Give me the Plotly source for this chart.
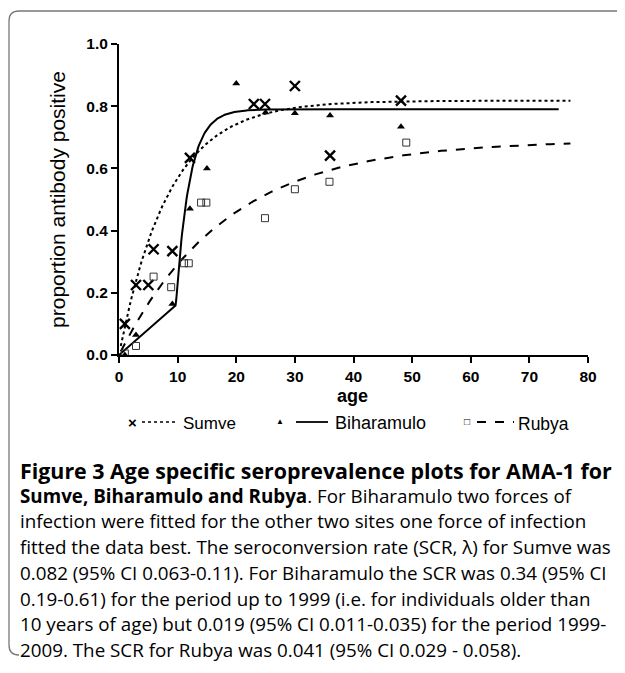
import numpy as np
import plotly.graph_objects as go

# observed data
sumve_age = [1, 2.9, 5, 5.9, 9.1, 12.1, 23, 24.9, 30, 36, 48.1]
sumve_p = [0.10, 0.225, 0.225, 0.34, 0.334, 0.634, 0.807, 0.807, 0.865, 0.641, 0.818]
bih_age = [1, 2.9, 9.1, 12.1, 15, 20, 25, 30, 36, 48.1]
bih_p = [0.0, 0.064, 0.164, 0.47, 0.60, 0.873, 0.78, 0.777, 0.77, 0.734]
rub_age = [1, 2.9, 5.9, 8.9, 11.1, 11.9, 14, 14.9, 24.9, 30, 35.9, 49]
rub_p = [0.005, 0.029, 0.252, 0.218, 0.295, 0.295, 0.49, 0.49, 0.44, 0.533, 0.557, 0.683]

# fitted model parameters
sumve_plateau, sumve_rate = 0.818, 0.119
rub_plateau, rub_rate = 0.69, 0.055
bih_plateau, bih_rate, bih_break, bih_slope = 0.79, 0.43, 9.7, 0.0165

a1 = np.linspace(0.3, 77, 300)
sumve_fit = sumve_plateau * (1 - np.exp(-sumve_rate * a1))
rub_fit = rub_plateau * (1 - np.exp(-rub_rate * a1))
a2 = np.linspace(0, 75, 600)
pb = bih_slope * bih_break
bih_fit = np.where(a2 <= bih_break, bih_slope * a2,
                   bih_plateau - (bih_plateau - pb) * np.exp(-bih_rate * (a2 - bih_break)))

fig = go.Figure()
fig.add_trace(go.Scatter(x=a1, y=sumve_fit, mode="lines", line=dict(color="black", width=2, dash="dot")))
fig.add_trace(go.Scatter(x=a2, y=bih_fit, mode="lines", line=dict(color="black", width=2)))
fig.add_trace(go.Scatter(x=a1, y=rub_fit, mode="lines", line=dict(color="black", width=2, dash="dash")))
fig.add_trace(go.Scatter(x=sumve_age, y=sumve_p, mode="markers",
                         marker=dict(symbol="x-thin", size=10, line=dict(width=2.4, color="black"), color="black")))
fig.add_trace(go.Scatter(x=bih_age, y=bih_p, mode="markers",
                         marker=dict(symbol="triangle-up", size=7, color="black")))
fig.add_trace(go.Scatter(x=rub_age, y=rub_p, mode="markers",
                         marker=dict(symbol="square-open", size=7, color="#333", line=dict(width=1))))

OFF = 8  # page body margin
L, R, T, B = 119, 588, 44, 355   # plot area in window pixels
W, H = 625 - OFF, 673 - OFF
def px(x): return (x - L) / (R - L)
def py(y): return (B - y) / (B - T)

shapes = [dict(type="path", xref="paper", yref="paper",
               path=(f"M {px(640)},{py(11)} L {px(19)},{py(11)} Q {px(9)},{py(11)} {px(9)},{py(21)} "
                     f"L {px(9)},{py(645)} Q {px(9)},{py(655)} {px(19)},{py(655)}"),
               line=dict(color="#777", width=1.3))]
ly = py(422)
shapes += [
    dict(type="line", xref="paper", yref="paper", x0=px(142), x1=px(178), y0=ly, y1=ly, line=dict(color="black", width=1.5, dash="dot")),
    dict(type="line", xref="paper", yref="paper", x0=px(296), x1=px(328), y0=ly, y1=ly, line=dict(color="black", width=1.8)),
    dict(type="line", xref="paper", yref="paper", x0=px(477), x1=px(514), y0=ly, y1=ly, line=dict(color="black", width=1.8, dash="dash")),
]
ann = []
def txt(x, y, s, size=14, family="Liberation Sans, Arial", xanchor="left"):
    ann.append(dict(xref="paper", yref="paper", x=px(x), y=py(y), text=s, showarrow=False,
                    xanchor=xanchor, yanchor="middle", font=dict(size=size, family=family, color="black")))
txt(132, 422, "<b>×</b>", 15, xanchor="center")
txt(280, 421, "▲", 8, xanchor="center")
txt(467, 421, "□", 10, xanchor="center")
txt(181, 423, "Sumve", 17)
txt(333, 423, "Biharamulo", 18)
txt(516, 424, "Rubya", 17.5)
txt(352, 396, "<b>age</b>", 18, xanchor="center")
cap = ["<b>Figure 3 Age specific seroprevalence plots for AMA-1 for</b>",
       "<b>Sumve, Biharamulo and Rubya</b>. For Biharamulo two forces of",
       "infection were fitted for the other two sites one force of infection",
       "fitted the data best. The seroconversion rate (SCR, λ) for Sumve was",
       "0.082 (95% CI 0.063-0.11). For Biharamulo the SCR was 0.34 (95% CI",
       "0.19-0.61) for the period up to 1999 (i.e. for individuals older than",
       "10 years of age) but 0.019 (95% CI 0.011-0.035) for the period 1999-",
       "2009. The SCR for Rubya was 0.041 (95% CI 0.029 - 0.058)."]
for i, s in enumerate(cap):
    txt(18, 470 + i * 25.7, s, 21.4 if i == 0 else 18.8, family="Open Sans")

axfont = dict(family="Liberation Sans, Arial", size=15.5, color="black")
fig.update_layout(
    width=W, height=H, margin=dict(l=L - OFF, r=W - (R - OFF), t=T - OFF, b=H - (B - OFF)),
    paper_bgcolor="white", plot_bgcolor="white", showlegend=False,
    shapes=shapes, annotations=ann,
    xaxis=dict(range=[0, 80], dtick=10, showgrid=False, zeroline=False, showline=True, linecolor="black",
               linewidth=2, ticks="outside", ticklen=6, tickwidth=2, tickcolor="black",
               tickfont=axfont, tickprefix="<b>", ticksuffix="</b>"),
    yaxis=dict(range=[0, 1.0], dtick=0.2, tickformat=".1f", showgrid=False, zeroline=False, showline=True,
               linecolor="black", linewidth=2, ticks="outside", ticklen=6, tickwidth=2, tickcolor="black",
               tickfont=axfont, tickprefix="<b>", ticksuffix="</b>",
               title=dict(text="proportion antibody positive", font=dict(family="Liberation Sans, Arial", size=21, color="black"), standoff=15)),
)
fig.write_html("out.html")
